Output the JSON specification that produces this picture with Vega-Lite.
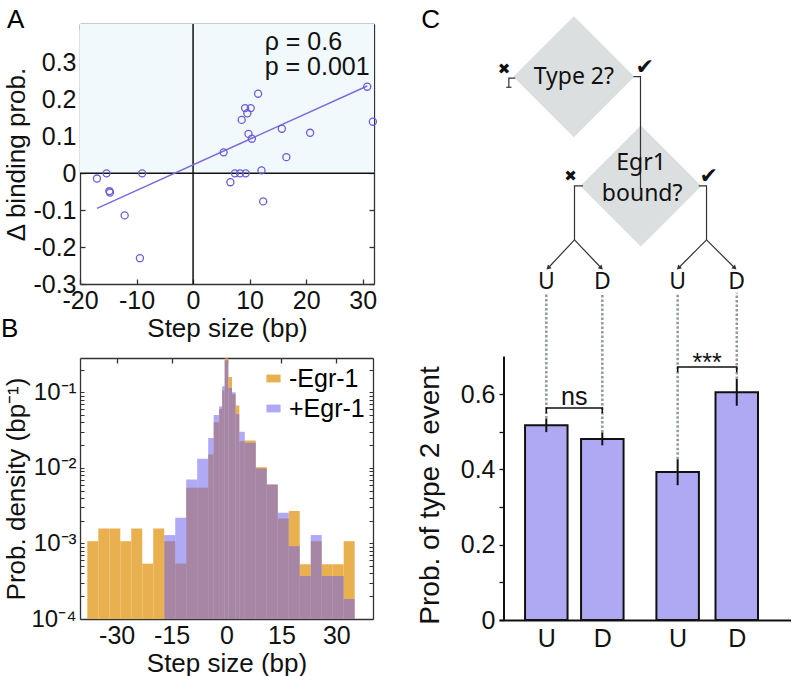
{
  "$schema": "https://vega.github.io/schema/vega-lite/v6.json",
  "padding": {"left": 0, "top": 7, "right": 0, "bottom": 0},
  "spacing": 36,
  "resolve": {"scale": {"color": "independent", "opacity": "independent"}, "legend": {"color": "independent", "opacity": "independent"}},
  "hconcat": [
    {
      "vconcat": [
        {
          "title": {"text": "A", "anchor": "start", "frame": "bounds", "offset": -31, "baseline": "alphabetic", "dx": 3},
          "width": 294,
          "height": 260,
          "resolve": {"axis": {"x": "independent", "y": "independent"}},
          "layer": [
            {
              "data": {"values": [{"s0": -20, "s1": 32, "d0": 0, "d1": 0.405}]},
              "mark": {"type": "rect", "color": "#F1F9FC"},
              "encoding": {
                "x": {"field": "s0", "type": "quantitative", "scale": {"domain": [-20, 32], "nice": false, "zero": false},
                  "axis": {"orient": "bottom", "values": [-20, -10, 0, 10, 20, 30], "labelExpr": "datum.value < 0 ? '-' + (-datum.value) : '' + datum.value", "title": "Step size (bp)", "tickSize": -5, "labelPadding": 9, "titlePadding": 2}},
                "x2": {"field": "s1"},
                "y": {"field": "d0", "type": "quantitative", "scale": {"domain": [-0.3, 0.405], "nice": false, "zero": false},
                  "axis": {"orient": "left", "values": [-0.3, -0.2, -0.1, 0, 0.1, 0.2, 0.3], "labelExpr": "datum.value < 0 ? '-' + (-datum.value) : '' + datum.value", "title": "Δ binding prob.", "titleFontSize": 26, "tickSize": -5, "labelPadding": 9, "titlePadding": 3}},
                "y2": {"field": "d1"}
              }
            },
            {
              "data": {"values": [{"s": 0, "d0": -0.3, "d1": 0.405}]},
              "mark": {"type": "rule", "color": "#111", "strokeWidth": 1.5},
              "encoding": {
                "x": {"field": "s", "type": "quantitative", "scale": {"domain": [-20, 32], "nice": false, "zero": false},
                  "axis": {"orient": "top", "values": [-20, -10, 0, 10, 20, 30], "labels": false, "title": null, "tickSize": -5}},
                "y": {"field": "d0", "type": "quantitative", "scale": {"domain": [-0.3, 0.405], "nice": false, "zero": false},
                  "axis": {"orient": "right", "values": [-0.3, -0.2, -0.1, 0, 0.1, 0.2, 0.3], "labels": false, "title": null, "tickSize": -5}},
                "y2": {"field": "d1"}
              }
            },
            {
              "data": {"values": [{"s0": -20, "s1": 32, "d": 0}]},
              "mark": {"type": "rule", "color": "#111", "strokeWidth": 1.5},
              "encoding": {
                "x": {"field": "s0", "type": "quantitative", "scale": {"domain": [-20, 32], "nice": false, "zero": false}, "axis": null},
                "x2": {"field": "s1"},
                "y": {"field": "d", "type": "quantitative", "scale": {"domain": [-0.3, 0.405], "nice": false, "zero": false}, "axis": null}
              }
            },
            {
              "data": {"values": [{"s": -17, "d": -0.095}, {"s": 30.8, "d": 0.237}]},
              "mark": {"type": "line", "color": "#7A6DDA", "strokeWidth": 1.5},
              "encoding": {
                "x": {"field": "s", "type": "quantitative", "scale": {"domain": [-20, 32], "nice": false, "zero": false}, "axis": null},
                "y": {"field": "d", "type": "quantitative", "scale": {"domain": [-0.3, 0.405], "nice": false, "zero": false}, "axis": null}
              }
            },
            {
              "data": {"values": [
                {"s": -17.0, "d": -0.014}, {"s": -15.3, "d": 0}, {"s": -14.8, "d": -0.048}, {"s": -14.7, "d": -0.052},
                {"s": -12.1, "d": -0.114}, {"s": -9.0, "d": 0}, {"s": -9.4, "d": -0.23}, {"s": 5.4, "d": 0.057},
                {"s": 6.6, "d": -0.024}, {"s": 7.4, "d": 0}, {"s": 8.3, "d": 0}, {"s": 9.3, "d": 0},
                {"s": 8.6, "d": 0.145}, {"s": 9.2, "d": 0.177}, {"s": 10.2, "d": 0.177}, {"s": 9.6, "d": 0.163},
                {"s": 11.5, "d": 0.216}, {"s": 9.8, "d": 0.107}, {"s": 10.4, "d": 0.094}, {"s": 12.1, "d": 0.008},
                {"s": 12.4, "d": -0.076}, {"s": 15.7, "d": 0.121}, {"s": 16.5, "d": 0.044}, {"s": 20.7, "d": 0.11},
                {"s": 30.8, "d": 0.235}, {"s": 31.8, "d": 0.14}
              ]},
              "mark": {"type": "point", "shape": "circle", "filled": false, "color": "#6A5CDB", "strokeWidth": 1.3, "size": 50, "opacity": 1},
              "encoding": {
                "x": {"field": "s", "type": "quantitative", "scale": {"domain": [-20, 32], "nice": false, "zero": false}, "axis": null},
                "y": {"field": "d", "type": "quantitative", "scale": {"domain": [-0.3, 0.405], "nice": false, "zero": false}, "axis": null}
              }
            },
            {
              "data": {"values": [{"t": "ρ = 0.6", "s": 12.66, "d": 0.334}, {"t": "p = 0.001", "s": 12.66, "d": 0.266}]},
              "mark": {"type": "text", "align": "left", "baseline": "alphabetic", "fontSize": 25, "color": "#111"},
              "encoding": {
                "x": {"field": "s", "type": "quantitative", "scale": {"domain": [-20, 32], "nice": false, "zero": false}, "axis": null},
                "y": {"field": "d", "type": "quantitative", "scale": {"domain": [-0.3, 0.405], "nice": false, "zero": false}, "axis": null},
                "text": {"field": "t"}
              }
            }
          ]
        },
        {
          "title": {"text": "B", "anchor": "start", "frame": "bounds", "offset": -6, "baseline": "alphabetic", "dx": -3},
          "width": 293,
          "height": 261,
          "resolve": {"axis": {"x": "independent", "y": "independent"}},
          "layer": [
            {
              "data": {"values": [
                {"g": "-Egr-1", "a": -38, "b": -35, "v": 0.00107},
                {"g": "-Egr-1", "a": -35, "b": -32, "v": 0.00158},
                {"g": "-Egr-1", "a": -32, "b": -29, "v": 0.00158},
                {"g": "-Egr-1", "a": -29, "b": -26, "v": 0.00107},
                {"g": "-Egr-1", "a": -26, "b": -23, "v": 0.00158},
                {"g": "-Egr-1", "a": -23, "b": -20, "v": 0.00054},
                {"g": "-Egr-1", "a": -20, "b": -17, "v": 0.00158},
                {"g": "-Egr-1", "a": -17, "b": -14, "v": 0.00107},
                {"g": "-Egr-1", "a": -14, "b": -11, "v": 0.00054},
                {"g": "-Egr-1", "a": -11, "b": -8, "v": 0.00544},
                {"g": "-Egr-1", "a": -8, "b": -5, "v": 0.00544},
                {"g": "-Egr-1", "a": -5, "b": -3.5, "v": 0.015},
                {"g": "-Egr-1", "a": -3.5, "b": -2, "v": 0.04},
                {"g": "-Egr-1", "a": -2, "b": -1.2, "v": 0.06},
                {"g": "-Egr-1", "a": -1.2, "b": -0.5, "v": 0.105},
                {"g": "-Egr-1", "a": -0.5, "b": 0.5, "v": 0.28},
                {"g": "-Egr-1", "a": 0.5, "b": 1.5, "v": 0.159},
                {"g": "-Egr-1", "a": 1.5, "b": 2.5, "v": 0.095},
                {"g": "-Egr-1", "a": 2.5, "b": 3.5, "v": 0.067},
                {"g": "-Egr-1", "a": 3.5, "b": 5, "v": 0.0225},
                {"g": "-Egr-1", "a": 5, "b": 8, "v": 0.023},
                {"g": "-Egr-1", "a": 8, "b": 11, "v": 0.0102},
                {"g": "-Egr-1", "a": 11, "b": 14, "v": 0.006},
                {"g": "-Egr-1", "a": 14, "b": 17, "v": 0.00214},
                {"g": "-Egr-1", "a": 17, "b": 20, "v": 0.00268},
                {"g": "-Egr-1", "a": 20, "b": 23, "v": 0.00053},
                {"g": "-Egr-1", "a": 23, "b": 26, "v": 0.00107},
                {"g": "-Egr-1", "a": 26, "b": 29, "v": 0.00053},
                {"g": "-Egr-1", "a": 29, "b": 32, "v": 0.00053},
                {"g": "-Egr-1", "a": 32, "b": 35, "v": 0.00107},
                {"g": "+Egr-1", "a": -17, "b": -14, "v": 0.00129},
                {"g": "+Egr-1", "a": -14, "b": -11, "v": 0.00218},
                {"g": "+Egr-1", "a": -11, "b": -8, "v": 0.007},
                {"g": "+Egr-1", "a": -8, "b": -5, "v": 0.01315},
                {"g": "+Egr-1", "a": -5, "b": -3.5, "v": 0.0249},
                {"g": "+Egr-1", "a": -3.5, "b": -2, "v": 0.05},
                {"g": "+Egr-1", "a": -2, "b": -1.2, "v": 0.065},
                {"g": "+Egr-1", "a": -1.2, "b": -0.5, "v": 0.12},
                {"g": "+Egr-1", "a": -0.5, "b": 0.5, "v": 0.265},
                {"g": "+Egr-1", "a": 0.5, "b": 1.5, "v": 0.114},
                {"g": "+Egr-1", "a": 1.5, "b": 2.5, "v": 0.1},
                {"g": "+Egr-1", "a": 2.5, "b": 3.5, "v": 0.051},
                {"g": "+Egr-1", "a": 3.5, "b": 5, "v": 0.03},
                {"g": "+Egr-1", "a": 5, "b": 8, "v": 0.0215},
                {"g": "+Egr-1", "a": 8, "b": 11, "v": 0.0098},
                {"g": "+Egr-1", "a": 11, "b": 14, "v": 0.006},
                {"g": "+Egr-1", "a": 14, "b": 17, "v": 0.00254},
                {"g": "+Egr-1", "a": 17, "b": 20, "v": 0.00092},
                {"g": "+Egr-1", "a": 20, "b": 23, "v": 0.00037},
                {"g": "+Egr-1", "a": 23, "b": 26, "v": 0.00129},
                {"g": "+Egr-1", "a": 26, "b": 29, "v": 0.00037},
                {"g": "+Egr-1", "a": 29, "b": 32, "v": 0.00037},
                {"g": "+Egr-1", "a": 32, "b": 35, "v": 0.000184}
              ]},
              "mark": {"type": "rect"},
              "encoding": {
                "x": {"field": "a", "type": "quantitative", "scale": {"domain": [-40, 40], "nice": false, "zero": false},
                  "axis": {"orient": "bottom", "values": [-30, -15, 0, 15, 30], "labelExpr": "datum.value < 0 ? '-' + (-datum.value) : '' + datum.value", "title": "Step size (bp)", "tickSize": -5, "labelPadding": 9, "titlePadding": 2}},
                "x2": {"field": "b"},
                "y": {"field": "v", "type": "quantitative", "scale": {"type": "log", "domain": [0.0001, 0.284], "nice": false},
                  "axis": {"orient": "left", "values": [0.0001, 0.0002, 0.0003, 0.0004, 0.0005, 0.0006, 0.0007, 0.0008, 0.0009, 0.001, 0.002, 0.003, 0.004, 0.005, 0.006, 0.007, 0.008, 0.009, 0.01, 0.02, 0.03, 0.04, 0.05, 0.06, 0.07, 0.08, 0.09, 0.1, 0.2],
                    "labelExpr": "abs(log(datum.value) / LN10 - round(log(datum.value) / LN10)) > 0.01 ? '' : (round(log(datum.value) / LN10) == -4 ? '10⁻⁴' : round(log(datum.value) / LN10) == -3 ? '10⁻³' : round(log(datum.value) / LN10) == -2 ? '10⁻²' : '10⁻¹')",
                    "labelFontSize": 24, "title": "Prob. density (bp⁻¹)", "titleFontSize": 26, "tickSize": -4, "tickWidth": 1, "labelPadding": 8, "titlePadding": 1}},
                "y2": {"datum": 0.0001},
                "color": {"field": "g", "type": "nominal", "scale": {"domain": ["-Egr-1", "+Egr-1"], "range": ["#E8B04E", "#6F63EC"]},
                  "legend": {"orient": "top-right", "title": null, "symbolType": "M-1,-0.55L1,-0.55L1,0.55L-1,0.55Z", "symbolSize": 200, "labelFontSize": 25, "labelFont": "Liberation Sans", "offset": 8, "rowPadding": 4, "labelOffset": 3, "padding": 0}},
                "opacity": {"field": "g", "type": "nominal", "scale": {"domain": ["-Egr-1", "+Egr-1"], "range": [1, 0.55]},
                  "legend": {"orient": "top-right", "title": null, "symbolType": "M-1,-0.55L1,-0.55L1,0.55L-1,0.55Z", "symbolSize": 200, "labelFontSize": 25, "labelFont": "Liberation Sans", "offset": 8, "rowPadding": 4, "labelOffset": 3, "padding": 0}}
              }
            },
            {
              "data": {"values": [{"a": 0, "v": 0.01}]},
              "mark": {"type": "point", "opacity": 0},
              "encoding": {
                "x": {"field": "a", "type": "quantitative", "scale": {"domain": [-40, 40], "nice": false, "zero": false},
                  "axis": {"orient": "top", "values": [-30, -15, 0, 15, 30], "labels": false, "title": null, "tickSize": -5}},
                "y": {"field": "v", "type": "quantitative", "scale": {"type": "log", "domain": [0.0001, 0.284], "nice": false},
                  "axis": {"orient": "right", "values": [0.0001, 0.0002, 0.0003, 0.0004, 0.0005, 0.0006, 0.0007, 0.0008, 0.0009, 0.001, 0.002, 0.003, 0.004, 0.005, 0.006, 0.007, 0.008, 0.009, 0.01, 0.02, 0.03, 0.04, 0.05, 0.06, 0.07, 0.08, 0.09, 0.1, 0.2], "labels": false, "title": null, "tickSize": -4, "tickWidth": 1}}
              }
            }
          ]
        }
      ],
      "spacing": 74,
      "bounds": "flush",
      "resolve": {"scale": {"color": "independent", "opacity": "independent"}, "legend": {"color": "independent", "opacity": "independent"}}
    },
    {
      "title": {"text": "C", "anchor": "start", "frame": "bounds", "offset": -38, "baseline": "alphabetic", "dx": 5},
      "width": 292,
      "height": 596,
      "resolve": {"axis": {"x": "independent", "y": "independent"}},
      "layer": [
        {
          "data": {"values": [
            {"c": "U", "p": 0.75, "v": 0.517},
            {"c": "D", "p": 1.743, "v": 0.481},
            {"c": "U", "p": 3.079, "v": 0.393},
            {"c": "D", "p": 4.127, "v": 0.605}
          ]},
          "mark": {"type": "bar", "orient": "vertical", "width": 42.5, "fill": "#AFA9F4", "stroke": "#111", "strokeWidth": 2},
          "encoding": {
            "x": {"field": "p", "type": "quantitative", "scale": {"domain": [0, 5], "nice": false, "zero": false},
              "axis": {"orient": "bottom", "values": [0.75, 1.743, 3.079, 4.127], "labelExpr": "(datum.value < 1 || (datum.value > 3 && datum.value < 3.5)) ? 'U' : 'D'", "ticks": false, "labelPadding": 6, "title": null, "domain": true, "domainColor": "#111", "domainWidth": 2}},
            "y": {"field": "v", "type": "quantitative", "scale": {"domain": [0, 1.583], "nice": false, "zero": true},
              "axis": {"orient": "left", "values": [0, 0.1, 0.2, 0.3, 0.4, 0.5, 0.6], "labelExpr": "datum.value == 0 ? '0' : (round(datum.value * 10) % 2 == 0 ? '' + datum.value : '')", "title": "Prob. of type 2 event", "titleFontSize": 28, "titleY": 471, "tickSize": -5, "labelPadding": 9, "domain": false, "titlePadding": 16, "tickColor": "#111"}}
          }
        },
        {
          "data": {"values": [{"p": 0, "a": 0, "b": 0.7}]},
          "mark": {"type": "rule", "color": "#111", "strokeWidth": 2},
          "encoding": {
            "x": {"field": "p", "type": "quantitative", "scale": {"domain": [0, 5], "nice": false, "zero": false}, "axis": null},
            "y": {"field": "a", "type": "quantitative", "scale": {"domain": [0, 1.583], "nice": false, "zero": true}, "axis": null},
            "y2": {"field": "b"}
          }
        },
        {
          "data": {"values": [
            {"p": 0.75, "lo": 0.499, "hi": 0.535},
            {"p": 1.743, "lo": 0.464, "hi": 0.498},
            {"p": 3.079, "lo": 0.358, "hi": 0.427},
            {"p": 4.127, "lo": 0.569, "hi": 0.64}
          ]},
          "layer": [
            {
              "mark": {"type": "rule", "color": "#8E9C9C", "strokeWidth": 2.5, "strokeDash": [2.5, 2]},
              "encoding": {
                "x": {"field": "p", "type": "quantitative", "scale": {"domain": [0, 5], "nice": false, "zero": false}, "axis": null},
                "y": {"field": "hi", "type": "quantitative", "scale": {"domain": [0, 1.583], "nice": false, "zero": true}, "axis": null},
                "y2": {"datum": 0.869}
              }
            },
            {
              "mark": {"type": "rule", "color": "#111", "strokeWidth": 2},
              "encoding": {
                "x": {"field": "p", "type": "quantitative", "scale": {"domain": [0, 5], "nice": false, "zero": false}, "axis": null},
                "y": {"field": "lo", "type": "quantitative", "scale": {"domain": [0, 1.583], "nice": false, "zero": true}, "axis": null},
                "y2": {"field": "hi"}
              }
            }
          ]
        },
        {
          "data": {"values": [
            {"br": "ns", "o": 1, "x": 0.75, "y": 0.549},
            {"br": "ns", "o": 2, "x": 0.75, "y": 0.563},
            {"br": "ns", "o": 3, "x": 1.743, "y": 0.563},
            {"br": "ns", "o": 4, "x": 1.743, "y": 0.549},
            {"br": "s3", "o": 1, "x": 3.079, "y": 0.658},
            {"br": "s3", "o": 2, "x": 3.079, "y": 0.672},
            {"br": "s3", "o": 3, "x": 4.127, "y": 0.672},
            {"br": "s3", "o": 4, "x": 4.127, "y": 0.658}
          ]},
          "mark": {"type": "line", "color": "#111", "strokeWidth": 1.5},
          "encoding": {
            "x": {"field": "x", "type": "quantitative", "scale": {"domain": [0, 5], "nice": false, "zero": false}, "axis": null},
            "y": {"field": "y", "type": "quantitative", "scale": {"domain": [0, 1.583], "nice": false, "zero": true}, "axis": null},
            "detail": {"field": "br"},
            "order": {"field": "o"}
          }
        },
        {
          "data": {"values": [{"t": "ns", "x": 1.246, "y": 0.571}, {"t": "***", "x": 3.603, "y": 0.662}]},
          "mark": {"type": "text", "align": "center", "baseline": "alphabetic", "fontSize": 25, "color": "#111"},
          "encoding": {
            "x": {"field": "x", "type": "quantitative", "scale": {"domain": [0, 5], "nice": false, "zero": false}, "axis": null},
            "y": {"field": "y", "type": "quantitative", "scale": {"domain": [0, 1.583], "nice": false, "zero": true}, "axis": null},
            "text": {"field": "t"}
          }
        },
        {
          "data": {"values": [{"q": "Type 2?", "x": 1.238, "y": 1.443}, {"q": "Egr1 bound?", "x": 2.426, "y": 1.153}]},
          "mark": {"type": "point", "shape": "diamond", "filled": true, "color": "#DCDFE0", "opacity": 1, "size": 14650},
          "encoding": {
            "x": {"field": "x", "type": "quantitative", "scale": {"domain": [0, 5], "nice": false, "zero": false}, "axis": null},
            "y": {"field": "y", "type": "quantitative", "scale": {"domain": [0, 1.583], "nice": false, "zero": true}, "axis": null}
          }
        },
        {
          "data": {"values": [
            {"sg": "a", "o": 1, "x": 2.295, "y": 1.443},
            {"sg": "a", "o": 2, "x": 2.42, "y": 1.443},
            {"sg": "a", "o": 3, "x": 2.42, "y": 1.1445},
            {"sg": "b", "o": 1, "x": 0.2, "y": 1.439},
            {"sg": "b", "o": 2, "x": 0.0856, "y": 1.439},
            {"sg": "b", "o": 3, "x": 0.0856, "y": 1.415},
            {"sg": "b2", "o": 1, "x": 0.039, "y": 1.415},
            {"sg": "b2", "o": 2, "x": 0.132, "y": 1.415},
            {"sg": "c", "o": 1, "x": 1.399, "y": 1.153},
            {"sg": "c", "o": 2, "x": 1.25, "y": 1.153},
            {"sg": "c", "o": 3, "x": 1.25, "y": 1.0096},
            {"sg": "d", "o": 1, "x": 3.454, "y": 1.153},
            {"sg": "d", "o": 2, "x": 3.591, "y": 1.153},
            {"sg": "d", "o": 3, "x": 3.591, "y": 1.0096},
            {"sg": "e", "o": 1, "x": 1.25, "y": 1.0096},
            {"sg": "e", "o": 2, "x": 0.783, "y": 0.935},
            {"sg": "f", "o": 1, "x": 1.25, "y": 1.0096},
            {"sg": "f", "o": 2, "x": 1.724, "y": 0.935},
            {"sg": "g", "o": 1, "x": 3.591, "y": 1.0096},
            {"sg": "g", "o": 2, "x": 3.094, "y": 0.935},
            {"sg": "h", "o": 1, "x": 3.591, "y": 1.0096},
            {"sg": "h", "o": 2, "x": 4.092, "y": 0.935}
          ]},
          "mark": {"type": "line", "color": "#333", "strokeWidth": 1.2},
          "encoding": {
            "x": {"field": "x", "type": "quantitative", "scale": {"domain": [0, 5], "nice": false, "zero": false}, "axis": null},
            "y": {"field": "y", "type": "quantitative", "scale": {"domain": [0, 1.583], "nice": false, "zero": true}, "axis": null},
            "detail": {"field": "sg"},
            "order": {"field": "o"}
          }
        },
        {
          "data": {"values": [
            {"dir": "left", "x": 0.783, "y": 0.935},
            {"dir": "right", "x": 1.724, "y": 0.935},
            {"dir": "left", "x": 3.094, "y": 0.935},
            {"dir": "right", "x": 4.092, "y": 0.935}
          ]},
          "layer": [
            {
              "transform": [{"filter": "datum.dir == 'left'"}],
              "mark": {"type": "point", "shape": "triangle-up", "filled": true, "color": "#333", "opacity": 1, "size": 28, "angle": 225},
              "encoding": {
                "x": {"field": "x", "type": "quantitative", "scale": {"domain": [0, 5], "nice": false, "zero": false}, "axis": null},
                "y": {"field": "y", "type": "quantitative", "scale": {"domain": [0, 1.583], "nice": false, "zero": true}, "axis": null}
              }
            },
            {
              "transform": [{"filter": "datum.dir == 'right'"}],
              "mark": {"type": "point", "shape": "triangle-up", "filled": true, "color": "#333", "opacity": 1, "size": 28, "angle": 135},
              "encoding": {
                "x": {"field": "x", "type": "quantitative", "scale": {"domain": [0, 5], "nice": false, "zero": false}, "axis": null},
                "y": {"field": "y", "type": "quantitative", "scale": {"domain": [0, 1.583], "nice": false, "zero": true}, "axis": null}
              }
            }
          ]
        },
        {
          "data": {"values": [
            {"t": "Type 2?", "x": 1.238, "y": 1.443},
            {"t": "Egr1", "x": 2.43, "y": 1.214},
            {"t": "bound?", "x": 2.45, "y": 1.131},
            {"t": "U", "x": 0.75, "y": 0.898},
            {"t": "D", "x": 1.743, "y": 0.898},
            {"t": "U", "x": 3.079, "y": 0.898},
            {"t": "D", "x": 4.127, "y": 0.898}
          ]},
          "mark": {"type": "text", "align": "center", "baseline": "middle", "font": "Noto Sans", "fontSize": 23, "color": "#111"},
          "encoding": {
            "x": {"field": "x", "type": "quantitative", "scale": {"domain": [0, 5], "nice": false, "zero": false}, "axis": null},
            "y": {"field": "y", "type": "quantitative", "scale": {"domain": [0, 1.583], "nice": false, "zero": true}, "axis": null},
            "text": {"field": "t"}
          }
        },
        {
          "data": {"values": [
            {"t": "✖", "x": 0.0, "y": 1.464},
            {"t": "✖", "x": 1.18, "y": 1.178}
          ]},
          "mark": {"type": "text", "align": "center", "baseline": "middle", "font": "DejaVu Sans", "fontSize": 15, "color": "#111"},
          "encoding": {
            "x": {"field": "x", "type": "quantitative", "scale": {"domain": [0, 5], "nice": false, "zero": false}, "axis": null},
            "y": {"field": "y", "type": "quantitative", "scale": {"domain": [0, 1.583], "nice": false, "zero": true}, "axis": null},
            "text": {"field": "t"}
          }
        },
        {
          "data": {"values": [
            {"t": "✔", "x": 2.495, "y": 1.4675},
            {"t": "✔", "x": 3.63, "y": 1.178}
          ]},
          "mark": {"type": "text", "align": "center", "baseline": "middle", "font": "DejaVu Sans", "fontSize": 22, "color": "#111"},
          "encoding": {
            "x": {"field": "x", "type": "quantitative", "scale": {"domain": [0, 5], "nice": false, "zero": false}, "axis": null},
            "y": {"field": "y", "type": "quantitative", "scale": {"domain": [0, 1.583], "nice": false, "zero": true}, "axis": null},
            "text": {"field": "t"}
          }
        }
      ]
    }
  ],
  "config": {
    "view": {"stroke": null},
    "font": "Liberation Sans",
    "axis": {"labelFont": "Liberation Sans", "titleFont": "Liberation Sans", "labelFontSize": 25, "titleFontSize": 26, "titleFontWeight": "normal", "labelColor": "#111", "titleColor": "#111", "domainColor": "#333", "tickColor": "#333", "domainWidth": 1.3, "tickWidth": 1.3, "grid": false, "labelFlush": false, "labelOverlap": false},
    "title": {"font": "Liberation Sans", "fontSize": 26, "fontWeight": "normal", "color": "#000"},
    "text": {"font": "Liberation Sans"}
  }
}
